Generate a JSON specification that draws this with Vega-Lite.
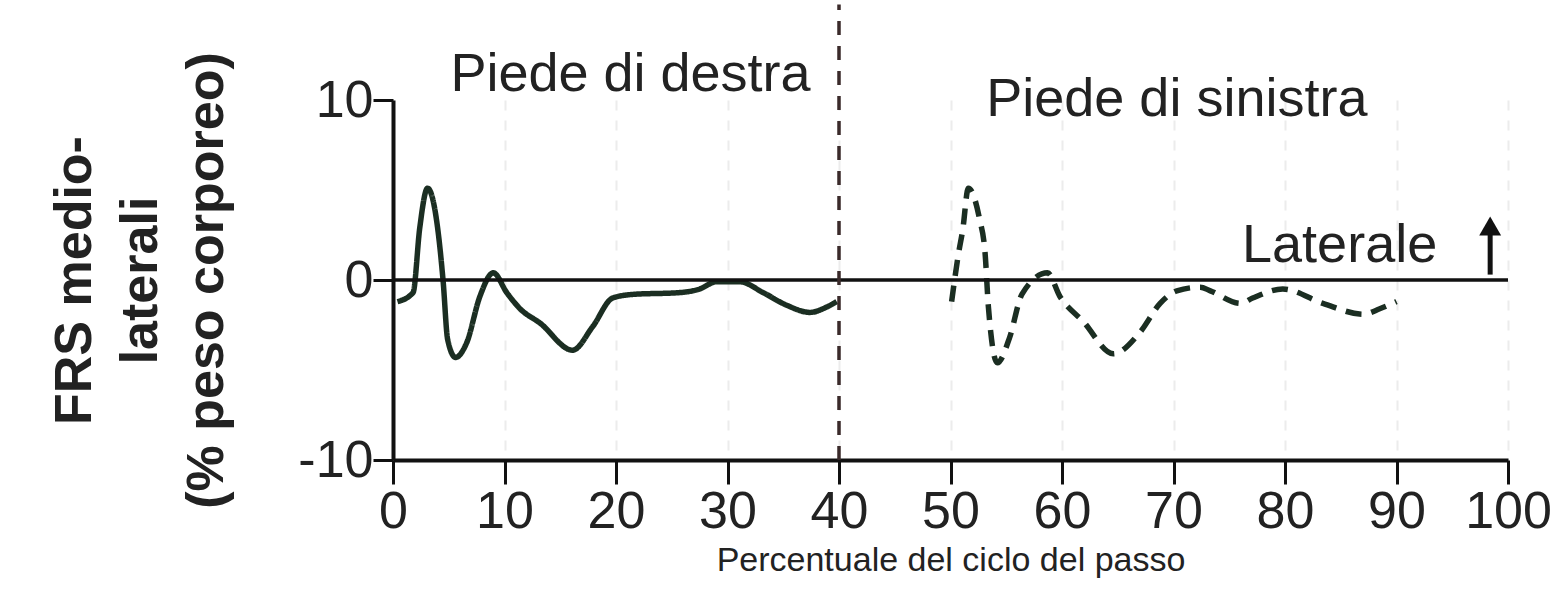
{
  "$schema": "https://vega.github.io/schema/vega-lite/v6.json",
  "width": 1115,
  "height": 360,
  "autosize": {"type": "none"},
  "padding": {"left": 393, "top": 100, "right": 52, "bottom": 129},
  "background": "white",
  "config": {
    "view": {"stroke": null},
    "font": "Liberation Sans",
    "text": {"font": "Liberation Sans"}
  },
  "datasets": {
    "curves": [
      {"foot": "destra", "pct": 0.4, "frs": -1.2},
      {"foot": "destra", "pct": 1.8, "frs": -0.7},
      {"foot": "destra", "pct": 2.4, "frs": 2.9},
      {"foot": "destra", "pct": 3.1, "frs": 5.1},
      {"foot": "destra", "pct": 4.0, "frs": 2.9},
      {"foot": "destra", "pct": 4.5, "frs": -0.1},
      {"foot": "destra", "pct": 4.9, "frs": -3.3},
      {"foot": "destra", "pct": 5.6, "frs": -4.3},
      {"foot": "destra", "pct": 6.6, "frs": -3.5},
      {"foot": "destra", "pct": 7.8, "frs": -0.9},
      {"foot": "destra", "pct": 9.0, "frs": 0.4},
      {"foot": "destra", "pct": 10.2, "frs": -0.7},
      {"foot": "destra", "pct": 11.4, "frs": -1.6},
      {"foot": "destra", "pct": 13.2, "frs": -2.4},
      {"foot": "destra", "pct": 16.1, "frs": -3.9},
      {"foot": "destra", "pct": 17.9, "frs": -2.6},
      {"foot": "destra", "pct": 19.7, "frs": -1.0},
      {"foot": "destra", "pct": 21.5, "frs": -0.8},
      {"foot": "destra", "pct": 25.7, "frs": -0.7},
      {"foot": "destra", "pct": 27.5, "frs": -0.5},
      {"foot": "destra", "pct": 29.0, "frs": -0.1},
      {"foot": "destra", "pct": 31.1, "frs": -0.1},
      {"foot": "destra", "pct": 33.2, "frs": -0.7},
      {"foot": "destra", "pct": 35.3, "frs": -1.4},
      {"foot": "destra", "pct": 37.4, "frs": -1.8},
      {"foot": "destra", "pct": 38.9, "frs": -1.5},
      {"foot": "destra", "pct": 39.8, "frs": -1.2},
      {"foot": "sinistra", "pct": 50.1, "frs": -1.2},
      {"foot": "sinistra", "pct": 50.7, "frs": 1.4},
      {"foot": "sinistra", "pct": 51.1, "frs": 2.8},
      {"foot": "sinistra", "pct": 51.6, "frs": 5.1},
      {"foot": "sinistra", "pct": 52.6, "frs": 3.4},
      {"foot": "sinistra", "pct": 53.1, "frs": 1.5},
      {"foot": "sinistra", "pct": 53.4, "frs": -1.5},
      {"foot": "sinistra", "pct": 54.2, "frs": -4.6},
      {"foot": "sinistra", "pct": 55.3, "frs": -3.2},
      {"foot": "sinistra", "pct": 56.4, "frs": -0.8},
      {"foot": "sinistra", "pct": 58.7, "frs": 0.4},
      {"foot": "sinistra", "pct": 59.8, "frs": -0.9},
      {"foot": "sinistra", "pct": 61.9, "frs": -2.3},
      {"foot": "sinistra", "pct": 64.6, "frs": -4.1},
      {"foot": "sinistra", "pct": 67.0, "frs": -2.9},
      {"foot": "sinistra", "pct": 68.8, "frs": -1.3},
      {"foot": "sinistra", "pct": 70.3, "frs": -0.6},
      {"foot": "sinistra", "pct": 72.4, "frs": -0.4},
      {"foot": "sinistra", "pct": 73.3, "frs": -0.6},
      {"foot": "sinistra", "pct": 76.0, "frs": -1.3},
      {"foot": "sinistra", "pct": 77.1, "frs": -1.0},
      {"foot": "sinistra", "pct": 79.8, "frs": -0.5},
      {"foot": "sinistra", "pct": 83.4, "frs": -1.3},
      {"foot": "sinistra", "pct": 87.0, "frs": -1.9},
      {"foot": "sinistra", "pct": 88.5, "frs": -1.6},
      {"foot": "sinistra", "pct": 90.0, "frs": -1.2}
    ],
    "notes": [
      {"label": "Piede di destra", "pct": 21.3, "frs": 11.4},
      {"label": "Piede di sinistra", "pct": 70.3, "frs": 10.0},
      {"label": "Laterale", "pct": 84.9, "frs": 1.9}
    ],
    "arrow": [
      {"pct": 98.4, "frs": 0.3, "top": 2.8, "head": 3.0}
    ]
  },
  "layer": [
    {
      "data": {"name": "curves"},
      "mark": {"type": "line", "interpolate": "monotone", "strokeWidth": 5.5, "color": "#1b2e22"},
      "encoding": {
        "x": {
          "field": "pct", "type": "quantitative",
          "scale": {"domain": [0, 100], "nice": false},
          "title": "Percentuale del ciclo del passo",
          "axis": {
            "values": [0, 10, 20, 30, 40, 50, 60, 70, 80, 90, 100],
            "grid": true, "gridColor": "#ececec", "gridDash": [10, 10], "gridWidth": 2,
            "domainColor": "#111", "domainWidth": 4,
            "tickColor": "#111", "tickWidth": 3, "tickSize": 24,
            "labelFont": "Liberation Sans", "labelFontSize": 52, "labelColor": "#222", "labelPadding": 2,
            "labelFlush": false,
            "titleFont": "Liberation Sans", "titleFontSize": 34, "titleColor": "#222", "titleFontWeight": "normal", "titlePadding": 6
          }
        },
        "y": {
          "field": "frs", "type": "quantitative",
          "scale": {"domain": [-10, 10], "nice": false},
          "title": ["FRS medio-", "laterali", "(% peso corporeo)"],
          "axis": {
            "values": [-10, 0, 10],
            "labelExpr": "datum.value < 0 ? '-' + format(-datum.value, 'd') : format(datum.value, 'd')",
            "grid": false,
            "domainColor": "#111", "domainWidth": 4,
            "tickColor": "#111", "tickWidth": 3, "tickSize": 20,
            "labelFont": "Liberation Sans", "labelFontSize": 52, "labelColor": "#222", "labelPadding": 0,
            "titleFont": "Liberation Sans", "titleFontSize": 52, "titleColor": "#222", "titleFontWeight": "bold",
            "titleLineHeight": 66, "titlePadding": 64
          }
        },
        "strokeDash": {
          "field": "foot", "type": "nominal",
          "scale": {"domain": ["destra", "sinistra"], "range": [[1, 0], [16, 10]]},
          "legend": null
        },
        "detail": {"field": "foot"}
      }
    },
    {
      "data": {"name": "arrow"},
      "mark": {"type": "rule", "color": "#111", "strokeWidth": 3.5},
      "encoding": {"y": {"datum": 0, "type": "quantitative"}}
    },
    {
      "data": {"name": "arrow"},
      "mark": {"type": "rule", "color": "#3a2a2a", "strokeWidth": 3.5, "strokeDash": [14, 11]},
      "encoding": {
        "x": {"datum": 40, "type": "quantitative"},
        "y": {"datum": -10, "type": "quantitative"},
        "y2": {"datum": 15.3}
      }
    },
    {
      "data": {"name": "notes"},
      "mark": {"type": "text", "fontSize": 54, "color": "#222", "align": "center", "baseline": "middle"},
      "encoding": {
        "x": {"field": "pct", "type": "quantitative"},
        "y": {"field": "frs", "type": "quantitative"},
        "text": {"field": "label"}
      }
    },
    {
      "data": {"name": "arrow"},
      "mark": {"type": "rule", "color": "#111", "strokeWidth": 5},
      "encoding": {
        "x": {"field": "pct", "type": "quantitative"},
        "y": {"field": "frs", "type": "quantitative"},
        "y2": {"field": "top"}
      }
    },
    {
      "data": {"name": "arrow"},
      "mark": {"type": "point", "shape": "triangle-up", "filled": true, "size": 480, "color": "#111", "opacity": 1},
      "encoding": {
        "x": {"field": "pct", "type": "quantitative"},
        "y": {"field": "head", "type": "quantitative"}
      }
    }
  ]
}
